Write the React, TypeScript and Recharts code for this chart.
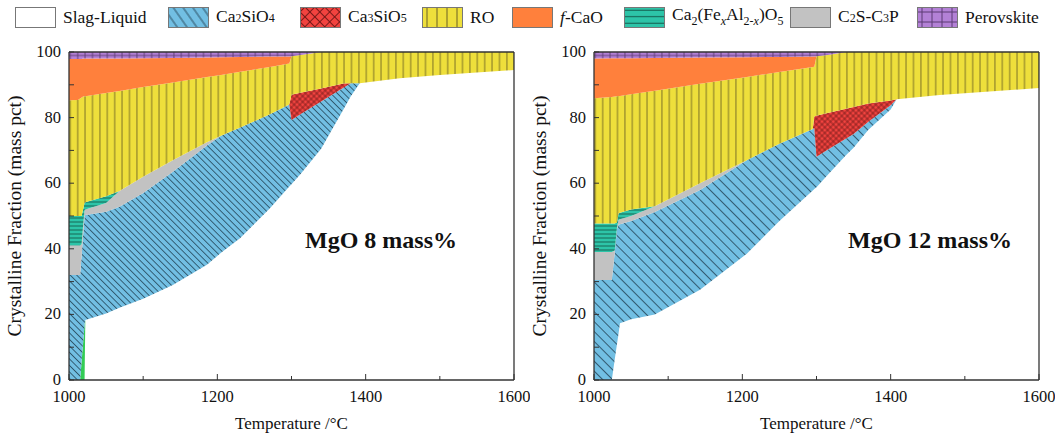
import { AreaChart, Area, XAxis, YAxis, ReferenceLine } from "recharts";

// MgO 8 mass%
const temps8 = [1000, 1012, 1015, 1017, 1019, 1021, 1022, 1050, 1068, 1100, 1140, 1186, 1205, 1231, 1271, 1297, 1300, 1312, 1340, 1352, 1370, 1380, 1392, 1446, 1500, 1600];
const liquid8 = [0, 0, 0, 0, 0, 0, 18.3, 20.3, 22, 24.8, 29, 35.1, 38.8, 43.3, 52.4, 59, 59.7, 62.7, 70.5, 75.3, 82.5, 86.5, 90.5, 92, 93, 94.5];
const minor8 = [0, 0, 0, 5.7, 11.3, 17, 0, 0, 0, 0, 0, 0, 0, 0, 0, 0, 0, 0, 0, 0, 0, 0, 0, 0, 0, 0];
const c2s8 = [32, 32, 32, 32.3, 32.7, 33, 32, 31, 30.8, 32.2, 34.5, 36.4, 35.7, 33.7, 28.6, 25, 19.6, 18.3, 14.4, 11.3, 6.6, 4, 0, 0, 0, 0];
const c2sc3p8 = [9, 9, 9, 3.5, 3, 1.8, 1.7, 2.7, 4.8, 5, 3.5, 1, 0, 0, 0, 0, 0, 0, 0, 0, 0, 0, 0, 0, 0, 0];
const ferrite8 = [9, 9, 9, 8.5, 5, 2.2, 2.2, 2, 0, 0, 0, 0, 0, 0, 0, 0, 0, 0, 0, 0, 0, 0, 0, 0, 0, 0];
const c3s8 = [0, 0, 0, 0, 0, 0, 0, 0, 0, 0, 0, 0, 0, 0, 0, 0, 7.7, 6.6, 4, 2.9, 1.3, 0, 0, 0, 0, 0];
const ro8 = [35.3, 35.4, 35.8, 36.1, 34.4, 32.5, 32.3, 31.5, 30.5, 27.3, 23.7, 19.9, 18.5, 17, 14.4, 12.5, 11.7, 11.5, 11.1, 10.5, 9.6, 9.5, 9.5, 8, 7, 5.5];
const cao8 = [12.6, 12.5, 12.1, 11.8, 11.6, 11.5, 11.5, 10.5, 9.9, 8.8, 7.5, 5.9, 5.4, 4.5, 3.2, 2.1, 0, 0, 0, 0, 0, 0, 0, 0, 0, 0];
const perov8 = [2.1, 2.1, 2.1, 2.1, 2, 2, 2, 2, 2, 1.9, 1.8, 1.7, 1.6, 1.5, 1.4, 1.4, 1.3, 0.9, 0, 0, 0, 0, 0, 0, 0, 0];

// MgO 12 mass%
const temps12 = [1000, 1024, 1028, 1031, 1033, 1035, 1050, 1082, 1143, 1206, 1250, 1295, 1297, 1300, 1315, 1340, 1350, 1370, 1400, 1408, 1466, 1600];
const liquid12 = [0, 0, 6.3, 11, 14, 17.3, 18.5, 20, 27.5, 38.5, 48.5, 57.8, 58.2, 58.8, 62.5, 68.6, 70.8, 76.3, 82.5, 85.6, 86.9, 89];
const minor12 = [0, 0, 0, 0, 0, 0, 0, 0, 0, 0, 0, 0, 0, 0, 0, 0, 0, 0, 0, 0, 0, 0];
const c2s12 = [30.5, 30.5, 32.7, 35, 33.3, 30.2, 30, 31.2, 30.4, 28.5, 23.5, 18.7, 18.6, 9.3, 7.7, 5, 4.2, 2.4, 1.3, 0, 0, 0];
const c2sc3p12 = [8.5, 8.5, 0.5, 0.5, 1.4, 1.5, 1.5, 1.8, 2.1, 0, 0, 0, 0, 0, 0, 0, 0, 0, 0, 0, 0, 0];
const ferrite12 = [8.7, 8.7, 8.2, 1.5, 2.1, 2, 2, 0, 0, 0, 0, 0, 0, 0, 0, 0, 0, 0, 0, 0, 0, 0];
const c3s12 = [0, 0, 0, 0, 0, 0, 0, 0, 0, 0, 0, 0, 3.5, 12.5, 11.2, 9.1, 8.2, 5.6, 1.4, 0, 0, 0];
const ro12 = [38.2, 38.6, 38.7, 38.5, 35.8, 35.6, 35.1, 35.2, 30.3, 25.4, 21.9, 18.9, 15.2, 18.1, 17.7, 17.3, 16.8, 15.7, 14.8, 14.4, 13.1, 11];
const cao12 = [12.1, 11.8, 11.7, 11.6, 11.5, 11.5, 11, 10, 8, 6, 4.6, 3.2, 3.1, 0, 0, 0, 0, 0, 0, 0, 0, 0];
const perov12 = [2, 1.9, 1.9, 1.9, 1.9, 1.9, 1.9, 1.8, 1.7, 1.6, 1.5, 1.4, 1.4, 1.3, 0.9, 0, 0, 0, 0, 0, 0, 0];

const xTicks = [1000, 1100, 1200, 1300, 1400, 1500, 1600];
const xMajor = [1000, 1200, 1400, 1600];
const yTicks = [0, 10, 20, 30, 40, 50, 60, 70, 80, 90, 100];
const yMajor = [0, 20, 40, 60, 80, 100];

const FONT = '"Liberation Serif", "Times New Roman", serif';
const AXIS = "#333";

function buildRows(
  temps: number[], liquid: number[], minor: number[], c2s: number[], c2sc3p: number[],
  ferrite: number[], c3s: number[], ro: number[], cao: number[], perov: number[]
) {
  return temps.map((T, i) => ({
    T,
    liquid: liquid[i],
    minor: minor[i],
    c2s: c2s[i],
    c2sc3p: c2sc3p[i],
    ferrite: ferrite[i],
    c3s: c3s[i],
    ro: ro[i],
    cao: cao[i],
    perov: perov[i],
  }));
}

const rows8 = buildRows(temps8, liquid8, minor8, c2s8, c2sc3p8, ferrite8, c3s8, ro8, cao8, perov8);
const rows12 = buildRows(temps12, liquid12, minor12, c2s12, c2sc3p12, ferrite12, c3s12, ro12, cao12, perov12);

function XTick(props: any) {
  const { x, y, payload } = props;
  const major = xMajor.includes(payload.value);
  return (
    <g>
      <line x1={x} y1={y} x2={x} y2={y - (major ? 6 : 4)} stroke={AXIS} strokeWidth={1} />
      {major && (
        <text x={x} y={y + 22} textAnchor="middle" fontSize={16.5} fontFamily={FONT} fill="#111">
          {payload.value}
        </text>
      )}
    </g>
  );
}

function YTick(props: any) {
  const { x, y, payload } = props;
  const major = yMajor.includes(payload.value);
  return (
    <g>
      <line x1={x} y1={y} x2={x + 5} y2={y} stroke={AXIS} strokeWidth={1} />
      {major && (
        <text x={x - 8} y={y + 5} textAnchor="end" fontSize={16.5} fontFamily={FONT} fill="#111">
          {payload.value}
        </text>
      )}
    </g>
  );
}

function Patterns() {
  return (
    <svg width={0} height={0} style={{ position: "absolute" }}>
      <defs>
        <pattern id="pBlue8" patternUnits="userSpaceOnUse" width={4.6} height={10} patternTransform="rotate(-45)">
          <rect width={4.6} height={10} fill="#72bfe3" />
          <line x1={2.3} y1={0} x2={2.3} y2={10} stroke="#2b5064" strokeWidth={0.9} />
        </pattern>
        <pattern id="pBlue12" patternUnits="userSpaceOnUse" width={7} height={10} patternTransform="rotate(-45)">
          <rect width={7} height={10} fill="#72bfe3" />
          <line x1={3.5} y1={0} x2={3.5} y2={10} stroke="#2b5064" strokeWidth={0.9} />
        </pattern>
        <pattern id="pRed" patternUnits="userSpaceOnUse" width={4} height={4} patternTransform="rotate(45)">
          <rect width={4} height={4} fill="#f2433f" />
          <line x1={2} y1={0} x2={2} y2={4} stroke="#6a1515" strokeWidth={0.7} />
          <line x1={0} y1={2} x2={4} y2={2} stroke="#6a1515" strokeWidth={0.7} />
        </pattern>
        <pattern id="pYellow" patternUnits="userSpaceOnUse" width={7.4} height={10}>
          <rect width={7.4} height={10} fill="#eedf3b" />
          <line x1={3.7} y1={0} x2={3.7} y2={10} stroke="#6b6122" strokeWidth={0.9} />
        </pattern>
        <pattern id="pTeal" patternUnits="userSpaceOnUse" width={10} height={4}>
          <rect width={10} height={4} fill="#2dc4a8" />
          <line x1={0} y1={2} x2={10} y2={2} stroke="#145b4c" strokeWidth={0.9} />
        </pattern>
        <pattern id="pPurple" patternUnits="userSpaceOnUse" width={7.4} height={7.4}>
          <rect width={7.4} height={7.4} fill="#b381d6" />
          <line x1={3.7} y1={0} x2={3.7} y2={7.4} stroke="#5b3a73" strokeWidth={0.9} />
          <line x1={0} y1={3.7} x2={7.4} y2={3.7} stroke="#5b3a73" strokeWidth={0.9} />
        </pattern>
        <pattern id="pBlueLegend" patternUnits="userSpaceOnUse" width={8} height={10} patternTransform="rotate(-35)">
          <rect width={8} height={10} fill="#72bfe3" />
          <line x1={4} y1={0} x2={4} y2={10} stroke="#2b5064" strokeWidth={1} />
        </pattern>
        <pattern id="pRedLegend" patternUnits="userSpaceOnUse" width={7} height={7} patternTransform="rotate(45)">
          <rect width={7} height={7} fill="#f2433f" />
          <line x1={3.5} y1={0} x2={3.5} y2={7} stroke="#6a1515" strokeWidth={0.9} />
          <line x1={0} y1={3.5} x2={7} y2={3.5} stroke="#6a1515" strokeWidth={0.9} />
        </pattern>
        <pattern id="pYellowLegend" patternUnits="userSpaceOnUse" width={10} height={10}>
          <rect width={10} height={10} fill="#eedf3b" />
          <line x1={5} y1={0} x2={5} y2={10} stroke="#6b6122" strokeWidth={1} />
        </pattern>
        <pattern id="pTealLegend" patternUnits="userSpaceOnUse" width={10} height={6.5}>
          <rect width={10} height={6.5} fill="#2dc4a8" />
          <line x1={0} y1={3.2} x2={10} y2={3.2} stroke="#145b4c" strokeWidth={1} />
        </pattern>
        <pattern id="pPurpleLegend" patternUnits="userSpaceOnUse" width={10} height={10}>
          <rect width={10} height={10} fill="#b381d6" />
          <line x1={5} y1={0} x2={5} y2={10} stroke="#5b3a73" strokeWidth={1} />
          <line x1={0} y1={5} x2={10} y2={5} stroke="#5b3a73" strokeWidth={1} />
        </pattern>
      </defs>
    </svg>
  );
}

function Panel({ rows, blue, left, label, labelLeft }: { rows: any[]; blue: string; left: number; label: string; labelLeft: number }) {
  return (
    <div style={{ position: "absolute", left, top: 0, width: 530, height: 437 }}>
      <AreaChart width={530} height={437} data={rows} margin={{ top: 52, right: 16, bottom: 27, left: 29 }}>
        <XAxis
          dataKey="T"
          type="number"
          domain={[1000, 1600]}
          ticks={xTicks}
          interval={0}
          tickSize={0}
          tickMargin={0}
          tickLine={false}
          tick={<XTick />}
          height={30}
          axisLine={{ stroke: AXIS, strokeWidth: 1.3 }}
        />
        <YAxis
          type="number"
          domain={[0, 100]}
          ticks={yTicks}
          interval={0}
          tickSize={0}
          tickMargin={0}
          tickLine={false}
          tick={<YTick />}
          width={40}
          axisLine={{ stroke: AXIS, strokeWidth: 1.3 }}
        />
        <Area type="linear" dataKey="liquid" stackId="1" fill="#ffffff" fillOpacity={1} stroke="none" isAnimationActive={false} />
        <Area type="linear" dataKey="minor" stackId="1" fill="#33cc55" fillOpacity={1} stroke="none" isAnimationActive={false} />
        <Area type="linear" dataKey="c2s" stackId="1" fill={`url(#${blue})`} fillOpacity={1} stroke="none" isAnimationActive={false} />
        <Area type="linear" dataKey="c2sc3p" stackId="1" fill="#c2c2c2" fillOpacity={1} stroke="none" isAnimationActive={false} />
        <Area type="linear" dataKey="ferrite" stackId="1" fill="url(#pTeal)" fillOpacity={1} stroke="none" isAnimationActive={false} />
        <Area type="linear" dataKey="c3s" stackId="1" fill="url(#pRed)" fillOpacity={1} stroke="none" isAnimationActive={false} />
        <Area type="linear" dataKey="ro" stackId="1" fill="url(#pYellow)" fillOpacity={1} stroke="none" isAnimationActive={false} />
        <Area type="linear" dataKey="cao" stackId="1" fill="#ff803c" fillOpacity={1} stroke="none" isAnimationActive={false} />
        <Area type="linear" dataKey="perov" stackId="1" fill="url(#pPurple)" fillOpacity={1} stroke="none" isAnimationActive={false} />
        <ReferenceLine y={100} stroke={AXIS} strokeWidth={1.3} />
        <ReferenceLine x={1600} stroke={AXIS} strokeWidth={1.3} />
      </AreaChart>
      <div
        style={{
          position: "absolute", left: 15 - 150, top: 216 - 11, width: 300, textAlign: "center",
          transform: "rotate(-90deg)", fontFamily: FONT, fontSize: 19.5, color: "#111", lineHeight: "22px",
          whiteSpace: "nowrap",
        }}
      >
        Crystalline Fraction (mass pct)
      </div>
      <div
        style={{
          position: "absolute", left: 69, width: 445, top: 414, textAlign: "center",
          fontFamily: FONT, fontSize: 17, color: "#111", lineHeight: "20px",
        }}
      >
        Temperature /°C
      </div>
      <div
        style={{
          position: "absolute", left: labelLeft, top: 226, fontFamily: FONT, fontSize: 24, fontWeight: "bold",
          color: "#111", lineHeight: "28px", whiteSpace: "nowrap",
        }}
      >
        {label}
      </div>
    </div>
  );
}

const legendLeft = [15, 168, 300, 422, 512, 624, 790, 917];
const legendFill = ["#ffffff", "url(#pBlueLegend)", "url(#pRedLegend)", "url(#pYellowLegend)", "#ff803c", "url(#pTealLegend)", "#c2c2c2", "url(#pPurpleLegend)"];
const sub = { fontSize: 12 } as const;
const legendText = [
  <>Slag-Liquid</>,
  <>Ca<span style={sub}>2</span>SiO<span style={sub}>4</span></>,
  <>Ca<span style={sub}>3</span>SiO<span style={sub}>5</span></>,
  <>RO</>,
  <><i>f</i>-CaO</>,
  <>Ca<sub style={sub}>2</sub>(Fe<sub style={sub}><i>x</i></sub>Al<sub style={sub}>2-<i>x</i></sub>)O<sub style={sub}>5</sub></>,
  <>C<span style={sub}>2</span>S-C<span style={sub}>3</span>P</>,
  <>Perovskite</>,
];

function Legend() {
  return (
    <>
      {legendLeft.map((lx, i) => (
        <div key={i} style={{ position: "absolute", left: lx, top: 6, height: 22, display: "flex", alignItems: "center", whiteSpace: "nowrap" }}>
          <svg width={41} height={21} style={{ display: "block" }}>
            <rect x={0.5} y={0.5} width={40} height={20} fill={legendFill[i]} stroke="#777" strokeWidth={1} />
          </svg>
          <span style={{ marginLeft: 7, fontFamily: FONT, fontSize: 17.5, color: "#111", lineHeight: "20px" }}>{legendText[i]}</span>
        </div>
      ))}
    </>
  );
}

export default function App() {
  return (
    <div style={{ position: "absolute", left: 0, top: 0, width: 1059, height: 437, background: "#fff", overflow: "hidden" }}>
      <Patterns />
      <Legend />
      <Panel rows={rows8} blue="pBlue8" left={0} label="MgO 8 mass%" labelLeft={305} />
      <Panel rows={rows12} blue="pBlue12" left={525} label="MgO 12 mass%" labelLeft={323} />
    </div>
  );
}
